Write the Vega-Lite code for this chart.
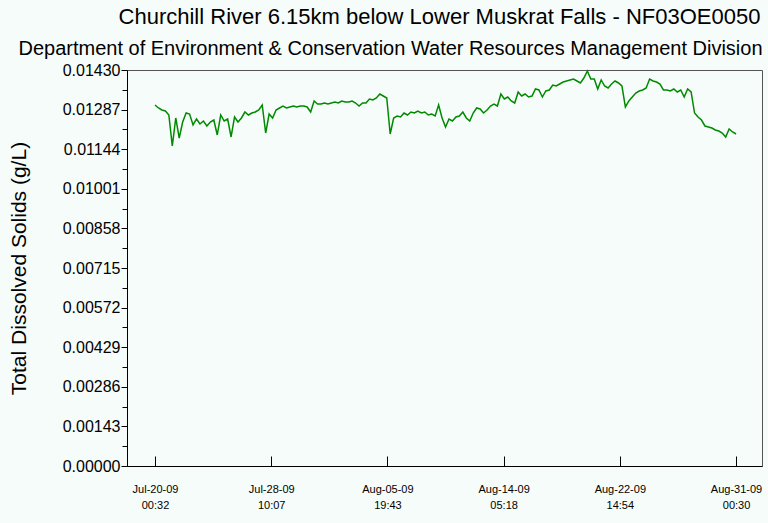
{
  "$schema": "https://vega.github.io/schema/vega-lite/v6.json",
  "width": 635,
  "height": 396,
  "autosize": {"type": "none"},
  "padding": {"left": 127, "top": 70, "right": 6, "bottom": 57},
  "background": "#f6fcf9",
  "config": {
    "font": "Liberation Sans",
    "view": {"stroke": "#555555", "strokeWidth": 1}
  },
  "title": {
    "text": "Churchill River 6.15km below Lower Muskrat Falls - NF03OE0050",
    "fontSize": 22,
    "fontWeight": "normal",
    "color": "#000000",
    "anchor": "middle",
    "frame": "group",
    "dx": -5,
    "offset": 9
  },
  "data": {
    "values": [
      {"t": "2009-07-20 00:32", "v": 0.013036},
      {"t": "2009-07-20 06:32", "v": 0.012928},
      {"t": "2009-07-20 12:32", "v": 0.012856},
      {"t": "2009-07-20 18:32", "v": 0.012819},
      {"t": "2009-07-21 00:32", "v": 0.012675},
      {"t": "2009-07-21 06:32", "v": 0.011556},
      {"t": "2009-07-21 12:32", "v": 0.012567},
      {"t": "2009-07-21 18:32", "v": 0.011844},
      {"t": "2009-07-22 00:32", "v": 0.012422},
      {"t": "2009-07-22 06:32", "v": 0.012747},
      {"t": "2009-07-22 12:32", "v": 0.012711},
      {"t": "2009-07-22 18:32", "v": 0.012314},
      {"t": "2009-07-23 00:32", "v": 0.012531},
      {"t": "2009-07-23 06:32", "v": 0.012350},
      {"t": "2009-07-23 12:32", "v": 0.012458},
      {"t": "2009-07-23 18:32", "v": 0.012278},
      {"t": "2009-07-24 00:32", "v": 0.012422},
      {"t": "2009-07-24 06:32", "v": 0.012494},
      {"t": "2009-07-24 12:32", "v": 0.011953},
      {"t": "2009-07-24 18:32", "v": 0.012675},
      {"t": "2009-07-25 00:32", "v": 0.012458},
      {"t": "2009-07-25 06:32", "v": 0.012531},
      {"t": "2009-07-25 12:32", "v": 0.011881},
      {"t": "2009-07-25 18:32", "v": 0.012603},
      {"t": "2009-07-26 00:32", "v": 0.012422},
      {"t": "2009-07-26 06:32", "v": 0.012567},
      {"t": "2009-07-26 12:32", "v": 0.012783},
      {"t": "2009-07-26 18:32", "v": 0.012675},
      {"t": "2009-07-27 00:32", "v": 0.012747},
      {"t": "2009-07-27 06:32", "v": 0.012783},
      {"t": "2009-07-27 12:32", "v": 0.012856},
      {"t": "2009-07-27 18:32", "v": 0.013036},
      {"t": "2009-07-28 00:32", "v": 0.012025},
      {"t": "2009-07-28 06:32", "v": 0.012711},
      {"t": "2009-07-28 12:32", "v": 0.012567},
      {"t": "2009-07-28 18:32", "v": 0.012856},
      {"t": "2009-07-29 00:32", "v": 0.012928},
      {"t": "2009-07-29 06:32", "v": 0.013000},
      {"t": "2009-07-29 12:32", "v": 0.012928},
      {"t": "2009-07-29 18:32", "v": 0.012964},
      {"t": "2009-07-30 00:32", "v": 0.013000},
      {"t": "2009-07-30 06:32", "v": 0.012964},
      {"t": "2009-07-30 12:32", "v": 0.013000},
      {"t": "2009-07-30 18:32", "v": 0.013000},
      {"t": "2009-07-31 00:32", "v": 0.012964},
      {"t": "2009-07-31 06:32", "v": 0.012783},
      {"t": "2009-07-31 12:32", "v": 0.013181},
      {"t": "2009-07-31 18:32", "v": 0.013072},
      {"t": "2009-08-01 00:32", "v": 0.013072},
      {"t": "2009-08-01 06:32", "v": 0.013108},
      {"t": "2009-08-01 12:32", "v": 0.013072},
      {"t": "2009-08-01 18:32", "v": 0.013108},
      {"t": "2009-08-02 00:32", "v": 0.013144},
      {"t": "2009-08-02 06:32", "v": 0.013108},
      {"t": "2009-08-02 12:32", "v": 0.013181},
      {"t": "2009-08-02 18:32", "v": 0.013144},
      {"t": "2009-08-03 00:32", "v": 0.013144},
      {"t": "2009-08-03 06:32", "v": 0.013181},
      {"t": "2009-08-03 12:32", "v": 0.013108},
      {"t": "2009-08-03 18:32", "v": 0.013000},
      {"t": "2009-08-04 00:32", "v": 0.013108},
      {"t": "2009-08-04 06:32", "v": 0.013108},
      {"t": "2009-08-04 12:32", "v": 0.013253},
      {"t": "2009-08-04 18:32", "v": 0.013217},
      {"t": "2009-08-05 00:32", "v": 0.013289},
      {"t": "2009-08-05 06:32", "v": 0.013433},
      {"t": "2009-08-05 12:32", "v": 0.013361},
      {"t": "2009-08-05 18:32", "v": 0.013289},
      {"t": "2009-08-06 00:32", "v": 0.011989},
      {"t": "2009-08-06 06:32", "v": 0.012567},
      {"t": "2009-08-06 12:32", "v": 0.012639},
      {"t": "2009-08-06 18:32", "v": 0.012603},
      {"t": "2009-08-07 00:32", "v": 0.012747},
      {"t": "2009-08-07 06:32", "v": 0.012675},
      {"t": "2009-08-07 12:32", "v": 0.012783},
      {"t": "2009-08-07 18:32", "v": 0.012747},
      {"t": "2009-08-08 00:32", "v": 0.012819},
      {"t": "2009-08-08 06:32", "v": 0.012747},
      {"t": "2009-08-08 12:32", "v": 0.012783},
      {"t": "2009-08-08 18:32", "v": 0.012675},
      {"t": "2009-08-09 00:32", "v": 0.012711},
      {"t": "2009-08-09 06:32", "v": 0.012639},
      {"t": "2009-08-09 12:32", "v": 0.013036},
      {"t": "2009-08-09 18:32", "v": 0.012567},
      {"t": "2009-08-10 00:32", "v": 0.012242},
      {"t": "2009-08-10 06:32", "v": 0.012531},
      {"t": "2009-08-10 12:32", "v": 0.012458},
      {"t": "2009-08-10 18:32", "v": 0.012603},
      {"t": "2009-08-11 00:32", "v": 0.012639},
      {"t": "2009-08-11 06:32", "v": 0.012783},
      {"t": "2009-08-11 12:32", "v": 0.012567},
      {"t": "2009-08-11 18:32", "v": 0.012458},
      {"t": "2009-08-12 00:32", "v": 0.012747},
      {"t": "2009-08-12 06:32", "v": 0.012928},
      {"t": "2009-08-12 12:32", "v": 0.012892},
      {"t": "2009-08-12 18:32", "v": 0.012747},
      {"t": "2009-08-13 00:32", "v": 0.012856},
      {"t": "2009-08-13 06:32", "v": 0.013000},
      {"t": "2009-08-13 12:32", "v": 0.013072},
      {"t": "2009-08-13 18:32", "v": 0.013000},
      {"t": "2009-08-14 00:32", "v": 0.013433},
      {"t": "2009-08-14 06:32", "v": 0.013253},
      {"t": "2009-08-14 12:32", "v": 0.013325},
      {"t": "2009-08-14 18:32", "v": 0.013181},
      {"t": "2009-08-15 00:32", "v": 0.013108},
      {"t": "2009-08-15 06:32", "v": 0.013506},
      {"t": "2009-08-15 12:32", "v": 0.013361},
      {"t": "2009-08-15 18:32", "v": 0.013433},
      {"t": "2009-08-16 00:32", "v": 0.013325},
      {"t": "2009-08-16 06:32", "v": 0.013361},
      {"t": "2009-08-16 12:32", "v": 0.013614},
      {"t": "2009-08-16 18:32", "v": 0.013578},
      {"t": "2009-08-17 00:32", "v": 0.013325},
      {"t": "2009-08-17 06:32", "v": 0.013542},
      {"t": "2009-08-17 12:32", "v": 0.013578},
      {"t": "2009-08-17 18:32", "v": 0.013758},
      {"t": "2009-08-18 00:32", "v": 0.013722},
      {"t": "2009-08-18 06:32", "v": 0.013794},
      {"t": "2009-08-18 12:32", "v": 0.013867},
      {"t": "2009-08-18 18:32", "v": 0.013903},
      {"t": "2009-08-19 00:32", "v": 0.013939},
      {"t": "2009-08-19 06:32", "v": 0.013975},
      {"t": "2009-08-19 12:32", "v": 0.013903},
      {"t": "2009-08-19 18:32", "v": 0.013831},
      {"t": "2009-08-20 00:32", "v": 0.014011},
      {"t": "2009-08-20 06:32", "v": 0.014264},
      {"t": "2009-08-20 12:32", "v": 0.013975},
      {"t": "2009-08-20 18:32", "v": 0.013975},
      {"t": "2009-08-21 00:32", "v": 0.013614},
      {"t": "2009-08-21 06:32", "v": 0.013939},
      {"t": "2009-08-21 12:32", "v": 0.013722},
      {"t": "2009-08-21 18:32", "v": 0.013650},
      {"t": "2009-08-22 00:32", "v": 0.013794},
      {"t": "2009-08-22 06:32", "v": 0.013903},
      {"t": "2009-08-22 12:32", "v": 0.013831},
      {"t": "2009-08-22 18:32", "v": 0.013722},
      {"t": "2009-08-23 00:32", "v": 0.012964},
      {"t": "2009-08-23 06:32", "v": 0.013181},
      {"t": "2009-08-23 12:32", "v": 0.013325},
      {"t": "2009-08-23 18:32", "v": 0.013469},
      {"t": "2009-08-24 00:32", "v": 0.013542},
      {"t": "2009-08-24 06:32", "v": 0.013578},
      {"t": "2009-08-24 12:32", "v": 0.013650},
      {"t": "2009-08-24 18:32", "v": 0.013975},
      {"t": "2009-08-25 00:32", "v": 0.013903},
      {"t": "2009-08-25 06:32", "v": 0.013867},
      {"t": "2009-08-25 12:32", "v": 0.013794},
      {"t": "2009-08-25 18:32", "v": 0.013578},
      {"t": "2009-08-26 00:32", "v": 0.013578},
      {"t": "2009-08-26 06:32", "v": 0.013542},
      {"t": "2009-08-26 12:32", "v": 0.013614},
      {"t": "2009-08-26 18:32", "v": 0.013506},
      {"t": "2009-08-27 00:32", "v": 0.013578},
      {"t": "2009-08-27 06:32", "v": 0.013325},
      {"t": "2009-08-27 12:32", "v": 0.013614},
      {"t": "2009-08-27 18:32", "v": 0.013506},
      {"t": "2009-08-28 00:32", "v": 0.012747},
      {"t": "2009-08-28 06:32", "v": 0.012603},
      {"t": "2009-08-28 12:32", "v": 0.012494},
      {"t": "2009-08-28 18:32", "v": 0.012278},
      {"t": "2009-08-29 00:32", "v": 0.012242},
      {"t": "2009-08-29 06:32", "v": 0.012206},
      {"t": "2009-08-29 12:32", "v": 0.012133},
      {"t": "2009-08-29 18:32", "v": 0.012097},
      {"t": "2009-08-30 00:32", "v": 0.012025},
      {"t": "2009-08-30 06:32", "v": 0.011881},
      {"t": "2009-08-30 12:32", "v": 0.012169},
      {"t": "2009-08-30 18:32", "v": 0.012061},
      {"t": "2009-08-31 00:30", "v": 0.011989}
    ],
    "format": {"parse": {"t": "utc:'%Y-%m-%d %H:%M'"}}
  },
  "resolve": {"axis": {"x": "independent", "y": "independent"}},
  "layer": [
    {
      "mark": {"type": "line", "color": "#008a00", "strokeWidth": 1.5, "interpolate": "linear"},
      "encoding": {
        "x": {
          "field": "t",
          "type": "temporal",
          "scale": {
            "type": "utc",
            "domain": [
              {"year": 2009, "month": 7, "date": 17, "hours": 23, "minutes": 57, "utc": true},
              {"year": 2009, "month": 9, "date": 1, "hours": 21, "minutes": 31, "utc": true}
            ]
          },
          "axis": {
            "orient": "bottom",
            "title": null,
            "grid": false,
            "values": [
              {"year": 2009, "month": 7, "date": 20, "hours": 0, "minutes": 32, "utc": true},
              {"year": 2009, "month": 7, "date": 28, "hours": 10, "minutes": 7, "utc": true},
              {"year": 2009, "month": 8, "date": 5, "hours": 19, "minutes": 43, "utc": true},
              {"year": 2009, "month": 8, "date": 14, "hours": 5, "minutes": 18, "utc": true},
              {"year": 2009, "month": 8, "date": 22, "hours": 14, "minutes": 54, "utc": true},
              {"year": 2009, "month": 8, "date": 31, "hours": 0, "minutes": 30, "utc": true}
            ],
            "labelExpr": "[utcFormat(datum.value, '%b-%d-%y'), utcFormat(datum.value, '%H:%M')]",
            "labelFontSize": 11,
            "labelColor": "#000000",
            "labelLineHeight": 16,
            "labelBaseline": "top",
            "labelPadding": 27,
            "labelFlush": false,
            "labelOverlap": false,
            "tickSize": -10,
            "tickColor": "#000000",
            "domainColor": "#000000"
          }
        },
        "y": {
          "field": "v",
          "type": "quantitative",
          "scale": {"domain": [0, 0.0143], "nice": false, "zero": true},
          "axis": {
            "orient": "left",
            "title": "Total Dissolved Solids (g/L)",
            "titleFontSize": 21,
            "titleFontWeight": "normal",
            "titleColor": "#000000",
            "titlePadding": 33,
            "grid": false,
            "values": [0, 0.00143, 0.00286, 0.00429, 0.00572, 0.00715, 0.00858, 0.01001, 0.01144, 0.01287, 0.0143],
            "format": ".5f",
            "labelFontSize": 16,
            "labelColor": "#000000",
            "labelPadding": 1,
            "labelFlush": false,
            "labelOverlap": false,
            "tickSize": 6,
            "tickColor": "#000000",
            "domainColor": "#000000"
          }
        }
      }
    },
    {
      "mark": {"type": "line", "strokeOpacity": 0},
      "encoding": {
        "x": {
          "field": "t",
          "type": "temporal",
          "axis": {
            "orient": "top",
            "title": "Department of Environment & Conservation Water Resources Management Division",
            "titleFontSize": 20,
            "titleFontWeight": "normal",
            "titleColor": "#000000",
            "titleX": 263,
            "titleY": -16,
            "titleBaseline": "alphabetic",
            "titleAlign": "center",
            "labels": false,
            "ticks": false,
            "domain": false,
            "grid": false
          }
        },
        "y": {
          "field": "v",
          "type": "quantitative",
          "axis": {
            "orient": "left",
            "title": null,
            "labels": false,
            "domain": false,
            "grid": false,
            "values": [0.000715, 0.002145, 0.003575, 0.005005, 0.006435, 0.007865, 0.009295, 0.010725, 0.012155, 0.013585],
            "tickSize": 5,
            "tickColor": "#000000"
          }
        }
      }
    }
  ]
}
